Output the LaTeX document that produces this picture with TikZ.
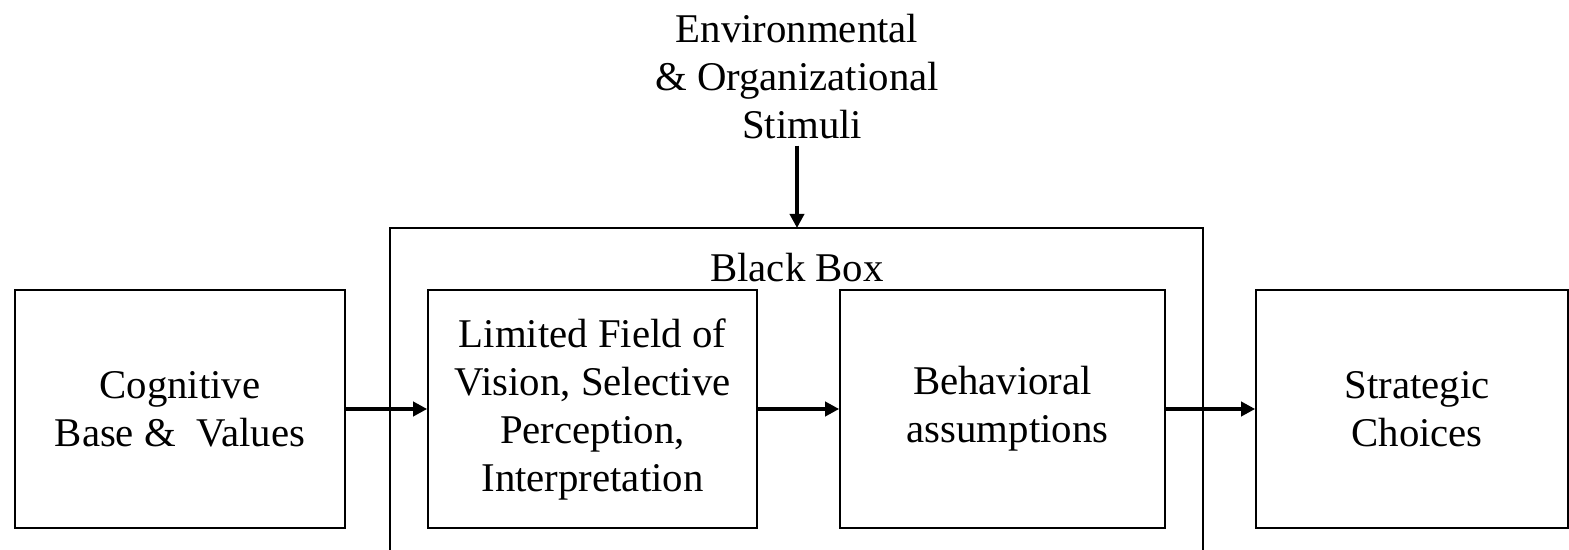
\documentclass[tikz,border=0pt]{standalone}
\usepackage{fontspec}
\setmainfont{Liberation Serif}
\usetikzlibrary{positioning,arrows.meta}
\tikzstyle{block} = [rectangle, draw=black, line width=0.8pt, align=center, minimum height=119pt, font=\fontsize{20.4}{24}\selectfont]
\tikzstyle{plain} = [align=center, font=\fontsize{20.4}{24}\selectfont]
\tikzstyle{arrow} = [-{Triangle[length=7pt,width=7pt]}, line width=1.9pt]

\begin{document}
\begin{tikzpicture}[x=0.5pt,y=-0.5pt]
		\useasboundingbox (0,0) rectangle (1569,550);
		\node (cognitive) [block,minimum width=165pt] at (180,409) {Cognitive\\Base \& \ Values};
		\node (limited) [block,minimum width=164.5pt] at (592.5,409) {Limited Field of\\Vision, Selective\\Perception,\\Interpretation};
		\node (behavioral) [block,minimum width=162.5pt] at (1002.5,409) {Behavioral\\ \ assumptions};
		\node (strategic) [block,minimum width=156pt] at (1412,409) {\ Strategic\\ \ Choices};
		\node (stimuli) [plain,inner sep=3pt] at (797,77) {Environmental\\\& Organizational\\ \ Stimuli};
		\node (blackbox-label) [plain] at (797,268) {Black Box};
		
		% outer frame, open at the bottom
		\draw [line width=0.8pt] (390,560) |- (1203,228) -- (1203,560);
		\coordinate (bb-top) at (797,228);
		
		\draw [arrow] (stimuli.south) -- (bb-top);
		\draw [arrow] (cognitive) -- (limited);
		\draw [arrow] (limited) -- (behavioral);
		\draw [arrow] (behavioral) -- (strategic);
		
	\end{tikzpicture}
\end{document}
